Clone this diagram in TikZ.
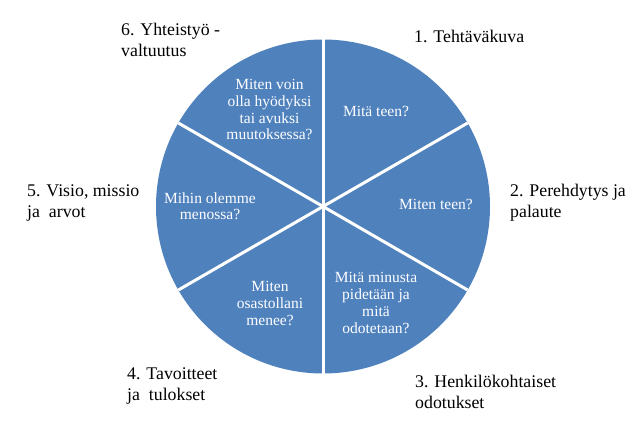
\documentclass[tikz,border=0pt]{standalone}
\usepackage{fontspec}
\setmainfont{Liberation Serif}
\definecolor{pieblue}{HTML}{4F81BD}
\tikzset{
  question/.style={text=white, align=center, font=\fontsize{15.5}{16.8}\selectfont, anchor=base, inner sep=0pt},
  topic/.style={align=left, font=\fontsize{17.8}{21}\selectfont, anchor=base west, inner sep=0pt},
  slice/.style={draw=white, line width=3pt}
}
\begin{document}
\begin{tikzpicture}[x=1pt,y=-1pt]
\useasboundingbox (0,0) rectangle (637,430);
\coordinate (o) at (323,206.5);
\fill[pieblue] (o) circle[radius=167];
\foreach \a in {90,30,...,-210}
  \draw[slice] (o) -- ++(\a:167);
% questions inside the slices (base = last line)
\node[question] (q1) at (376,117) {Mitä teen?};
\node[question] (q2) at (436,210) {Miten teen?};
\node[question] (q3) at (376,333) {Mitä minusta\\pidetään ja\\mitä\\odotetaan?};
\node[question] (q4) at (270,325) {Miten\\osastollani\\menee?};
\node[question] (q5) at (210,220) {Mihin olemme\\menossa?};
\node[question] (q6) at (269.5,140) {Miten voin\\olla hyödyksi\\tai avuksi\\muutoksessa?};
% topics round the pie
\node[topic] (t1) at (414,43) {1. Tehtäväkuva};
\node[topic] (t2) at (510,218) {2. Perehdytys ja\\palaute};
\node[topic] (t3) at (415,408) {3. Henkilökohtaiset\\odotukset};
\node[topic] (t4) at (127,400) {4. Tavoitteet\\ja\ \ tulokset};
\node[topic] (t5) at (27,218) {5. Visio, missio\\ja\ \ arvot};
\node[topic] (t6) at (121,57) {6. Yhteistyö -\\valtuutus};
\end{tikzpicture}
\end{document}
